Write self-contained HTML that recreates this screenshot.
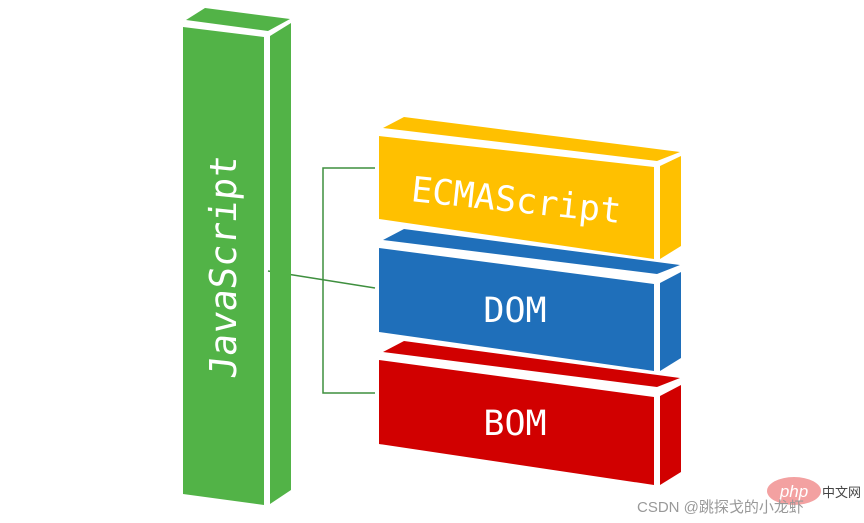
<!DOCTYPE html>
<html><head><meta charset="utf-8"><style>body{margin:0;background:#fff}svg{display:block}</style></head><body>
<svg width="864" height="523" viewBox="0 0 864 523" xmlns="http://www.w3.org/2000/svg">
<g stroke="#3f8f3f" stroke-width="1.5" fill="none">
<polyline points="375,168 323,168 323,393 375,393"/>
<line x1="268" y1="271" x2="375" y2="288"/>
</g>
<polygon points="186,20 205,8 290,19 268,31" fill="#52b347"/>
<polygon points="183,27 264,37 264,505 183,494" fill="#52b347"/>
<polygon points="270,36 291,23 291,490 270,504" fill="#52b347"/>
<text transform="translate(236,268) rotate(-90) skewX(-6)" text-anchor="middle" font-family="DejaVu Sans Mono, monospace" font-size="37" fill="#fff">JavaScript</text>
<polygon points="383,128 404,117 680,152 657,161" fill="#ffc000"/>
<polygon points="379,136 654,167 654,259 379,219" fill="#ffc000"/>
<polygon points="660,166 681,156 681,246 660,259" fill="#ffc000"/>
<text transform="translate(515,212) rotate(6)" text-anchor="middle" font-family="DejaVu Sans Mono, monospace" font-size="35" fill="#fff">ECMAScript</text>
<polygon points="383,240 404,229 680,265 657,274" fill="#1f6fba"/>
<polygon points="379,248 654,284 654,371 379,332" fill="#1f6fba"/>
<polygon points="660,283 681,272 681,358 660,371" fill="#1f6fba"/>
<text x="515" y="322" text-anchor="middle" font-family="DejaVu Sans Mono, monospace" font-size="35" fill="#fff">DOM</text>
<polygon points="383,352 404,341 680,378 657,387" fill="#d10000"/>
<polygon points="379,360 654,397 654,485 379,444" fill="#d10000"/>
<polygon points="660,396 681,385 681,472 660,485" fill="#d10000"/>
<text x="515" y="435" text-anchor="middle" font-family="DejaVu Sans Mono, monospace" font-size="35" fill="#fff">BOM</text>
<ellipse cx="794" cy="491" rx="27" ry="14" fill="#f08a8a" opacity="0.8"/>
<text x="794" y="497" text-anchor="middle" font-family="Liberation Sans, sans-serif" font-style="italic" font-size="17" fill="#fff">php</text>
<text x="822" y="497" font-family="Liberation Sans, 'Noto Sans CJK SC', sans-serif" font-size="13" fill="#444">中文网</text>
<text x="637" y="512" font-family="Liberation Sans, 'Noto Sans CJK SC', sans-serif" font-size="15" fill="#999">CSDN @跳探戈的小龙虾</text>
</svg>
</body></html>
